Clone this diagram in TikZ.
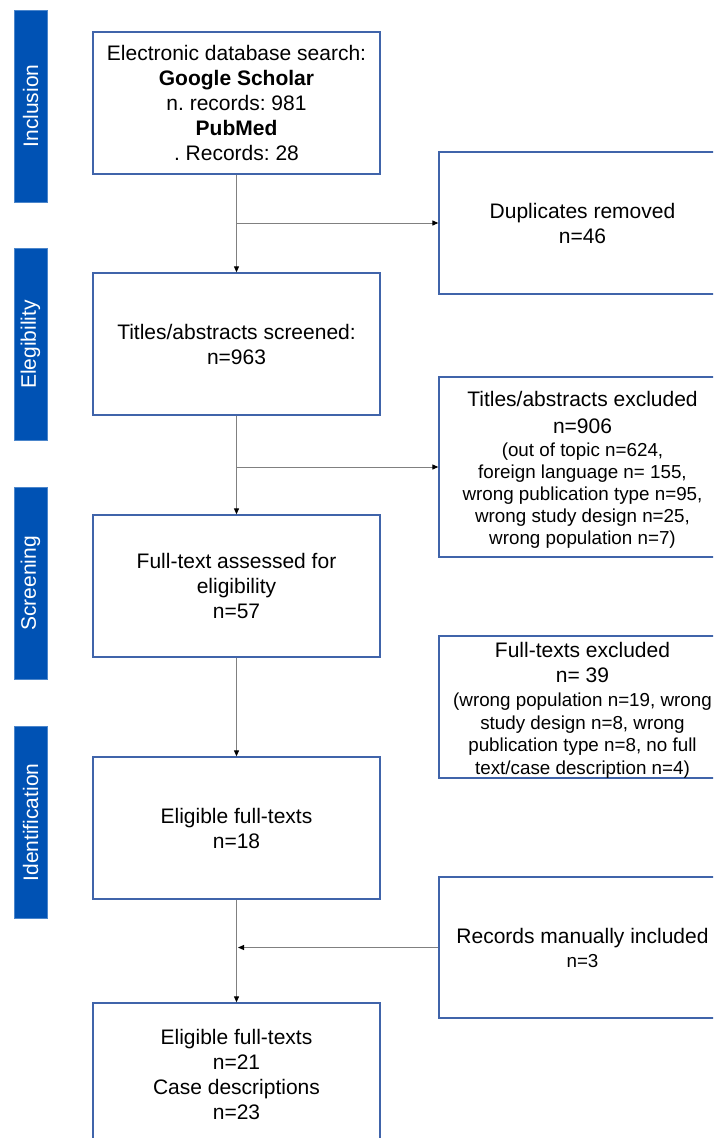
\documentclass[tikz,border=0pt]{standalone}
\usepackage{fontspec}
\setmainfont{Liberation Sans}
\usetikzlibrary{arrows.meta}

\definecolor{barblue}{RGB}{0,82,180}
\definecolor{boxblue}{RGB}{64,100,170}
\definecolor{linegray}{RGB}{128,128,128}
\newcommand{\smalltxt}{\fontsize{18.8}{22.5}\selectfont}
\frenchspacing

\begin{document}
\begin{tikzpicture}[
        % Define styles
        x=1pt, y=-1pt,
        box/.style={draw=boxblue, line width=1.3pt, fill=white, minimum width=287pt,
            minimum height=142pt, inner sep=0pt, align=center,
            font=\fontsize{21}{25}\selectfont},
        phase/.style={fill=barblue, draw=barblue!70!white, line width=0.8pt,
            minimum width=192pt, minimum height=33pt, inner sep=0pt, rotate=90,
            text=white, font=\fontsize{21}{25}\selectfont},
        connector/.style={draw=linegray, line width=1pt,
            -{Triangle[length=6pt, width=5pt, color=black]}}
    ]

        % --- Frame ---
        \useasboundingbox (0,0) rectangle (713,1138);
        \clip (0,0) rectangle (713,1138);

        % --- Phase bars ---
        \node[phase] (inclusion) at (30.5,106) {Inclusion};
        \node[phase] (elegibility) at (30.5,344.5) {Elegibility};
        \node[phase] (screening) at (30.5,583.5) {Screening};
        \node[phase] (identification) at (30.5,822.5) {Identification};

        % --- Main column ---
        \node[box] (search) at (236.5,103) {Electronic database search:\\
            \textbf{Google Scholar}\\ n. records: 981\\ \textbf{PubMed}\\ . Records: 28};
        \node[box] (screened) at (236.5,344) {Titles/abstracts screened:\\ n=963};
        \node[box] (assessed) at (236.5,586) {Full-text assessed for\\ eligibility\\ n=57};
        \node[box] (eligible) at (236.5,828) {Eligible full-texts\\ n=18};
        \node[box] (final) at (236.5,1074) {Eligible full-texts\\ n=21\\
            Case descriptions\\ n=23};

        % --- Side column ---
        \node[box] (duplicates) at (582.5,223) {Duplicates removed\\ n=46};
        \node[box, minimum height=180pt] (titlesout) at (582.5,467)
            {\rule{0pt}{21.5pt}Titles/abstracts excluded\\[2pt] n=906\\[-2pt]
            \smalltxt (out of topic n=624,\\[-3pt] \smalltxt foreign language n= 155,\\[-3pt]
            \smalltxt wrong publication type n=95,\\[-3pt] \smalltxt wrong study design n=25,\\[-3pt]
            \smalltxt wrong population n=7)};
        \node[box] (fulltextout) at (582.5,707) {\rule{0pt}{21.5pt}Full-texts excluded\\
            n= 39\\[-1pt] \smalltxt (wrong population n=19, wrong\\[-2.5pt]
            \smalltxt study design n=8, wrong\\[-2.5pt] \smalltxt publication type n=8, no full\\[-2.5pt]
            \smalltxt text/case description n=4)};
        \node[box, minimum height=141pt] (manual) at (582.5,947.5)
            {Records manually included\\[-1pt] \smalltxt n=3};

        % --- Branch points ---
        \coordinate (split_dup) at (search.south |- duplicates.west);
        \coordinate (split_titles) at (screened.south |- titlesout.west);
        \coordinate (join_manual) at (eligible.south |- manual.west);

        % --- Draw Edges ---
        \draw[connector] (search.south) -- (screened.north);
        \draw[connector] (split_dup) -- (duplicates.west);
        \draw[connector] (screened.south) -- (assessed.north);
        \draw[connector] (split_titles) -- (titlesout.west);
        \draw[connector] (assessed.south) -- (eligible.north);
        \draw[connector] (eligible.south) -- (final.north);
        \draw[connector] (manual.west) -- ([xshift=1.5pt]join_manual);

    \end{tikzpicture}
\end{document}
